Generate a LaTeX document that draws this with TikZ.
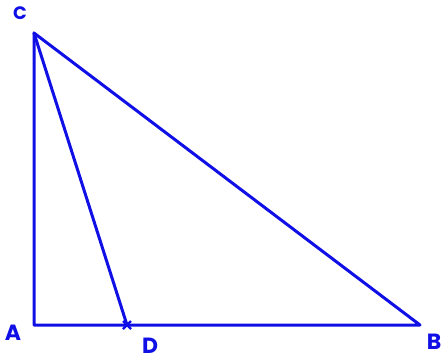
\documentclass[tikz,border=0pt]{standalone}
\usepackage{fontspec}
\setmainfont{Poppins}
\definecolor{pen}{RGB}{15,15,230}
\begin{document}
\begin{tikzpicture}[x=1pt,y=-1pt,
  edge/.style={draw=pen,line width=3pt,line cap=round,line join=round},
  lbl/.style={text=pen,font=\bfseries\fontsize{22}{22}\selectfont,inner sep=0pt}]
\useasboundingbox (0,0) rectangle (446,360);
\coordinate (A) at (34,325);
\coordinate (B) at (420,325);
\coordinate (C) at (34,33);
\coordinate (D) at (127,325);
\draw[edge] (C) -- (A) -- (B) -- cycle;
\draw[edge] (C) -- (D);
\draw[pen,line width=2.4pt] ([xshift=-4,yshift=-4]D) -- ([xshift=4,yshift=4]D);
\draw[pen,line width=2.4pt] ([xshift=-4,yshift=4]D) -- ([xshift=4,yshift=-4]D);
\node[lbl,font=\bfseries\fontsize{18}{18}\selectfont] (lC) at (20,13) {C};
\node[lbl] (lA) at (13,333) {A};
\node[lbl] (lD) at (150,346) {D};
\node[lbl] (lB) at (434,342) {B};
\end{tikzpicture}
\end{document}
